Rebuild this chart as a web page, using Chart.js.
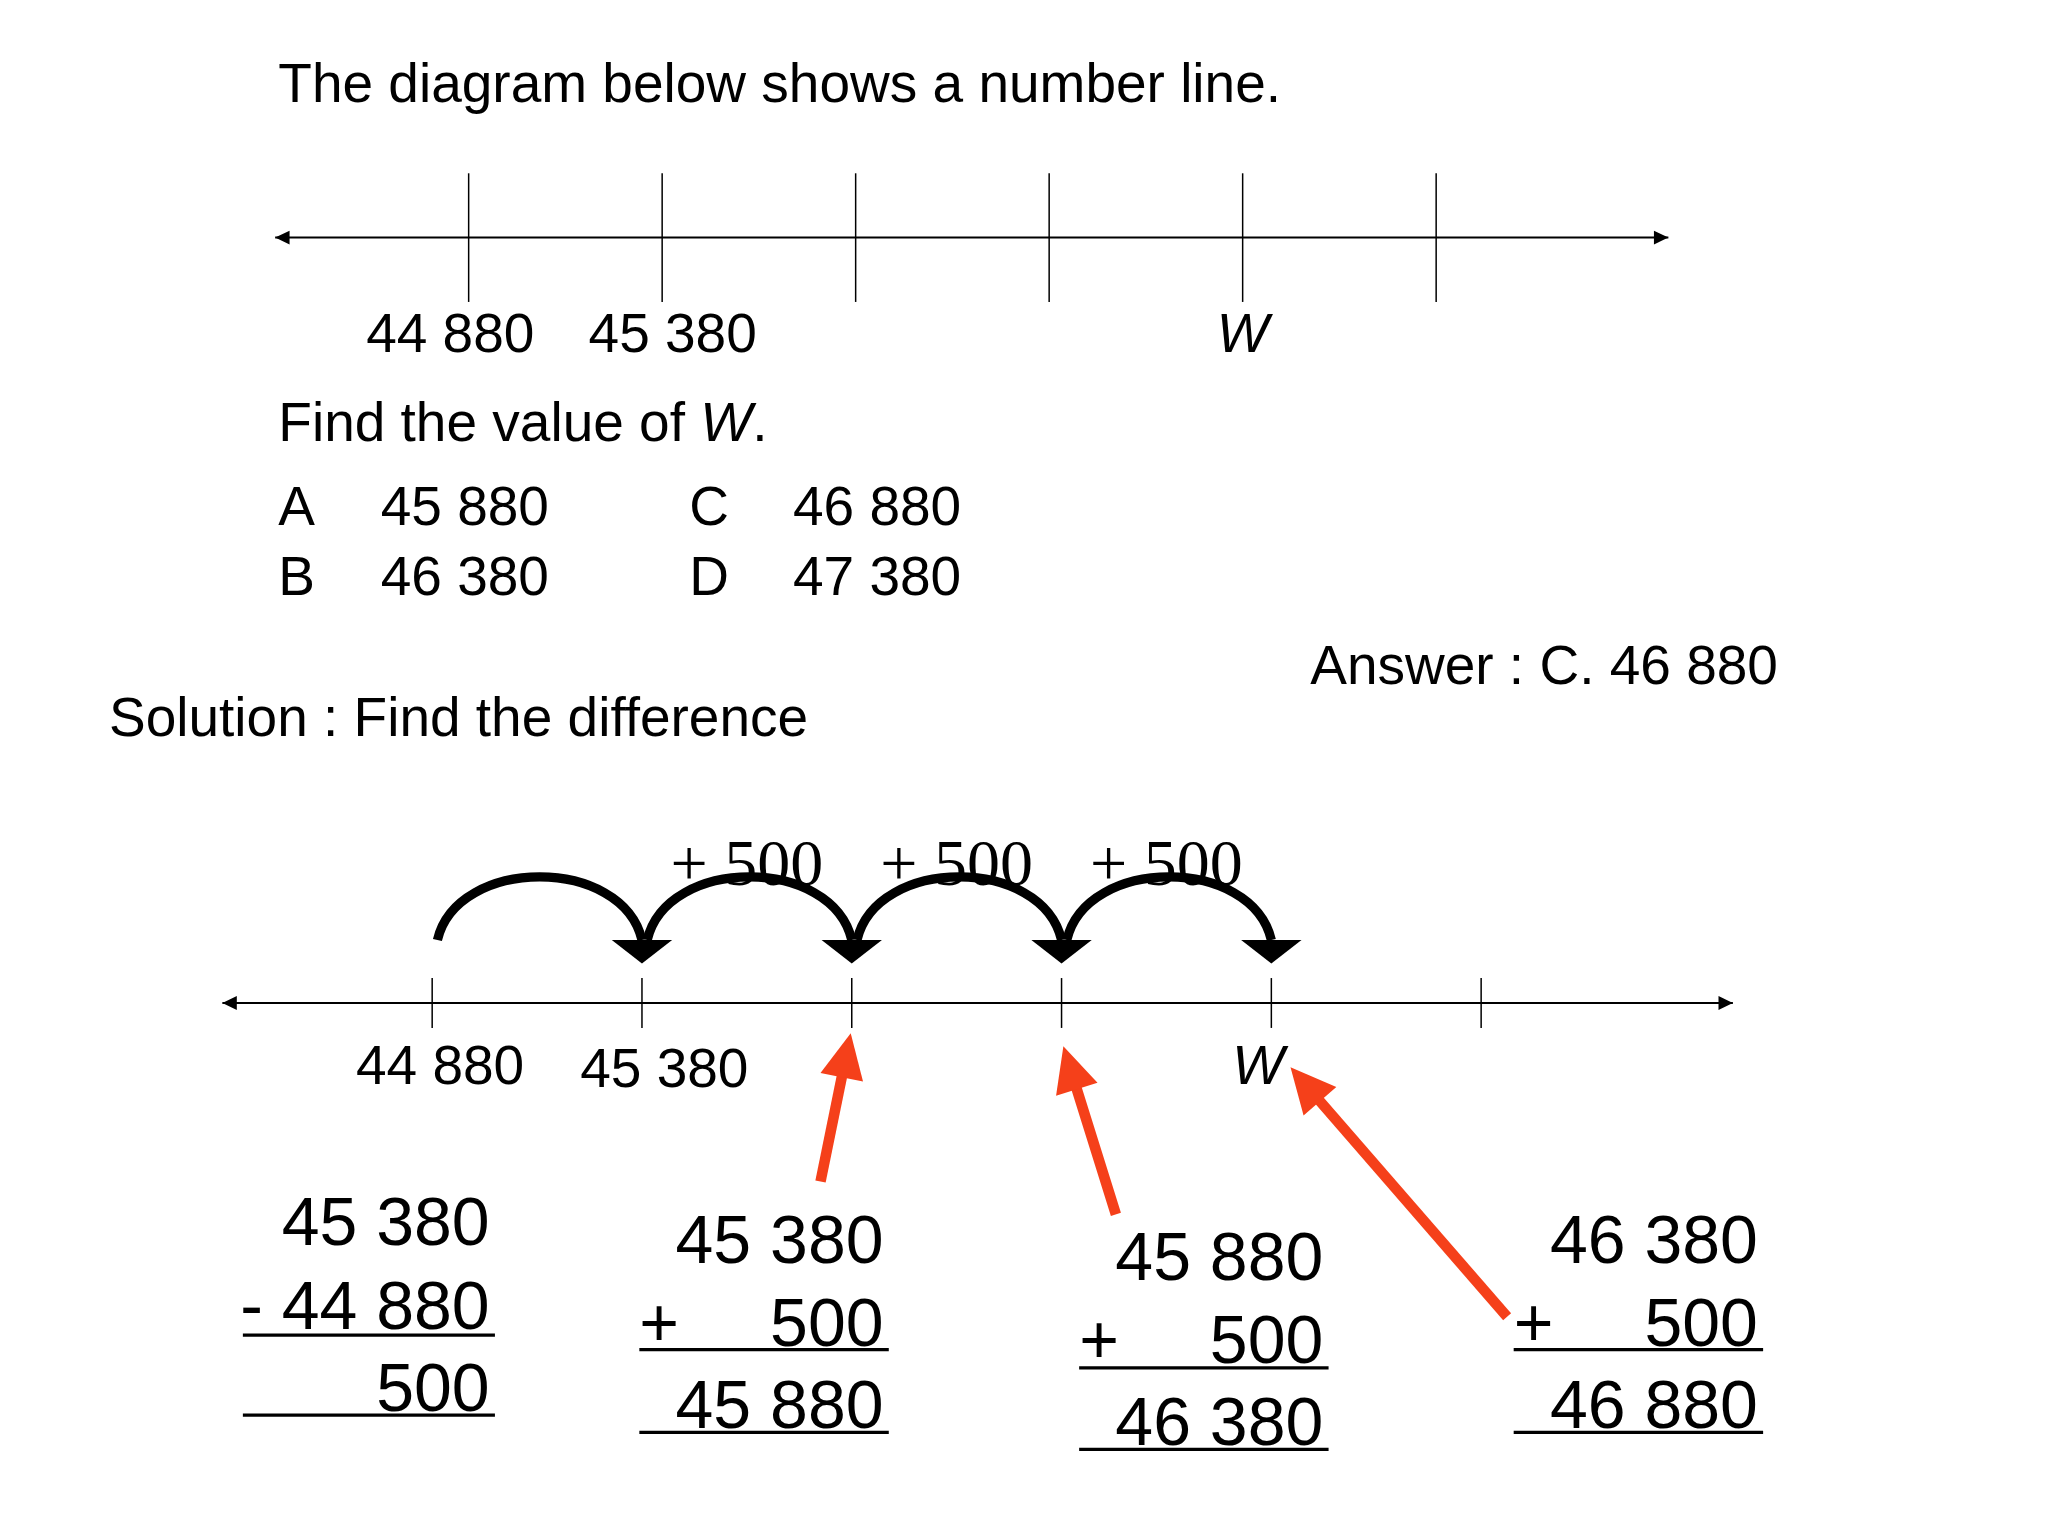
<!DOCTYPE html>
<html><head><meta charset="utf-8">
<script src="https://cdn.jsdelivr.net/npm/chart.js@4/dist/chart.umd.min.js"></script>
<style>html,body{margin:0;background:#fff}#wrap{width:2048px;height:1536px}</style>
</head><body><div id="wrap"><canvas id="c"></canvas></div>
<script>
// number line values
const tickValues = [44880, 45380, 45880, 46380, 46880, 47380];
const lineEnds = [44380, 47980];
const labelledTicks = ['44 880', '45 380', '', '', 'W', ''];
const jumpLabels = ['+ 500', '+ 500', '+ 500'];
const options = [['A', '45 880'], ['B', '46 380'], ['C', '46 880'], ['D', '47 380']];
const sums = [
  ['45 380', '- 44 880', '500'],
  ['45 380', '+', '500', '45 880'],
  ['45 880', '+', '500', '46 380'],
  ['46 380', '+', '500', '46 880']
];

const S = 2048 / 1560; // layout unit
const SANS = '"Liberation Sans", Arial, sans-serif';
const SERIF = '"Liberation Serif", "Times New Roman", serif';
const RED = '#f5401a';
const Y_TOP = 181 * S, Y_BOT = 764 * S;
const FS = 42;

function pts(vals, y) { return vals.map(v => ({ x: v, y: y })); }

function arrowHead(ctx, x1, y1, x2, y2, size, color) {
  const a = Math.atan2(y2 - y1, x2 - x1);
  ctx.fillStyle = color;
  ctx.beginPath();
  ctx.moveTo(x2, y2);
  ctx.lineTo(x2 - size * Math.cos(a - 0.45), y2 - size * Math.sin(a - 0.45));
  ctx.lineTo(x2 - size * Math.cos(a + 0.45), y2 - size * Math.sin(a + 0.45));
  ctx.closePath();
  ctx.fill();
}

const drawing = {
  id: 'drawing',
  afterDatasetsDraw(chart) {
    const ctx = chart.ctx;
    const xt = chart.scales.xTop, xb = chart.scales.xBot, ys = chart.scales.y;
    ctx.save();
    ctx.fillStyle = '#000';
    ctx.textBaseline = 'alphabetic';
    const txt = (t, x, y, size, align, font, italic) => {
      ctx.font = (italic ? 'italic ' : '') + Math.round(size * S) + 'px ' + (font || SANS);
      ctx.textAlign = align || 'left';
      ctx.fillText(t, x * S, y * S);
    };
    // axis arrow heads
    [[xt, Y_TOP], [xb, Y_BOT]].forEach(([sc, y]) => {
      const py = ys.getPixelForValue(y);
      arrowHead(ctx, sc.getPixelForValue(lineEnds[1]), py, sc.getPixelForValue(lineEnds[0]), py, 16, '#000');
      arrowHead(ctx, sc.getPixelForValue(lineEnds[0]), py, sc.getPixelForValue(lineEnds[1]), py, 16, '#000');
    });

    txt('The diagram below shows a number line.', 212, 78, FS);
    labelledTicks.forEach((l, i) => {
      if (!l) return;
      ctx.font = (l === 'W' ? 'italic ' : '') + Math.round(FS * S) + 'px ' + SANS;
      ctx.textAlign = 'center';
      const dx = l === 'W' ? 0 : (i === 0 ? -14 : 8) * S;
      ctx.fillText(l, xt.getPixelForValue(tickValues[i]) + dx, 268 * S);
      ctx.fillText(l, xb.getPixelForValue(tickValues[i]) + (l === 'W' ? -10 * S : (i === 0 ? 6 : 17) * S), (i === 1 ? 828 : 826) * S);
    });
    txt('Find the value of ', 212, 336, FS);
    ctx.font = Math.round(FS * S) + 'px ' + SANS;
    let w = ctx.measureText('Find the value of ').width;
    ctx.font = 'italic ' + Math.round(FS * S) + 'px ' + SANS;
    ctx.textAlign = 'left';
    ctx.fillText('W', 212 * S + w, 336 * S);
    let w2 = ctx.measureText('W').width;
    ctx.font = Math.round(FS * S) + 'px ' + SANS;
    ctx.fillText('.', 212 * S + w + w2, 336 * S);
    options.forEach((o, i) => {
      const col = i < 2 ? 0 : 1, row = i % 2;
      txt(o[0], col ? 525 : 212, 400 + row * 53, FS);
      txt(o[1], col ? 604 : 290, 400 + row * 53, FS);
    });
    txt('Answer : C. 46 880', 998, 521, FS);
    txt('Solution : Find the difference', 83, 561, FS);

    // jump arcs
    ctx.lineWidth = 7 * S;
    ctx.strokeStyle = '#000';
    for (let i = 0; i < 4; i++) {
      const x0 = xb.getPixelForValue(tickValues[i]) + 4 * S;
      const x1 = xb.getPixelForValue(tickValues[i + 1]);
      ctx.beginPath();
      ctx.moveTo(x0, 716 * S);
      ctx.bezierCurveTo(x0 + 15 * S, 652 * S, x1 - 15 * S, 652 * S, x1, 716 * S);
      ctx.stroke();
      ctx.fillStyle = '#000';
      ctx.beginPath();
      ctx.moveTo(x1 - 23 * S, 716 * S);
      ctx.lineTo(x1 + 23 * S, 716 * S);
      ctx.lineTo(x1, 734 * S);
      ctx.closePath();
      ctx.fill();
    }
    jumpLabels.forEach((l, i) => {
      const x = (xb.getPixelForValue(tickValues[i + 1]) + xb.getPixelForValue(tickValues[i + 2])) / 2;
      ctx.font = Math.round(50 * S) + 'px ' + SERIF;
      ctx.textAlign = 'center';
      ctx.fillText(l, x, 674 * S);
    });

    // red arrows
    [[625, 900, 648, 787], [850, 925, 810, 797], [1148, 1003, 983, 813]].forEach(a => {
      const [x1, y1, x2, y2] = a.map(v => v * S);
      const ang = Math.atan2(y2 - y1, x2 - x1);
      ctx.strokeStyle = RED;
      ctx.lineWidth = 8 * S;
      ctx.beginPath();
      ctx.moveTo(x1, y1);
      ctx.lineTo(x2 - 25 * S * Math.cos(ang), y2 - 25 * S * Math.sin(ang));
      ctx.stroke();
      arrowHead(ctx, x1, y1, x2, y2, 38 * S, RED);
    });

    // column sums
    const cols = [
      { l: 185, r: 375, ys: [948, 1012, 1075], lines: [1017, 1078] },
      { l: 487, r: 675, ys: [962, 1025, 1088], lines: [1028, 1091] },
      { l: 822, r: 1010, ys: [975, 1038, 1101], lines: [1042, 1104] },
      { l: 1153, r: 1341, ys: [962, 1025, 1088], lines: [1028, 1091] }
    ];
    ctx.fillStyle = '#000';
    ctx.strokeStyle = '#000';
    sums.forEach((s, i) => {
      const c = cols[i];
      const rows = s.length === 3 ? s : [s[0], s[2], s[3]];
      rows.forEach((t, k) => txt(t, c.r - 2, c.ys[k], 52, 'right'));
      if (s.length === 4) txt(s[1], c.l, c.ys[1], 52, 'left');
      ctx.lineWidth = 2.5 * S;
      c.lines.forEach(y => {
        ctx.beginPath();
        ctx.moveTo(c.l * S, y * S);
        ctx.lineTo((c.r + 2) * S, y * S);
        ctx.stroke();
      });
    });
    ctx.restore();
  }
};

const tickStyle = { showLine: false, pointStyle: 'line', rotation: 90, borderColor: '#000', borderWidth: 1.5, pointHoverRadius: 0 };

new Chart(document.getElementById('c'), {
  type: 'scatter',
  data: {
    datasets: [
      { data: pts(lineEnds, Y_TOP), xAxisID: 'xTop', showLine: true, borderColor: '#000', borderWidth: 2, pointRadius: 0 },
      Object.assign({ data: pts(tickValues, Y_TOP), xAxisID: 'xTop', pointRadius: 49 * S }, tickStyle),
      { data: pts(lineEnds, Y_BOT), xAxisID: 'xBot', showLine: true, borderColor: '#000', borderWidth: 2, pointRadius: 0 },
      Object.assign({ data: pts(tickValues, Y_BOT), xAxisID: 'xBot', pointRadius: 19 * S }, tickStyle)
    ]
  },
  options: {
    responsive: true, maintainAspectRatio: false, animation: false,
    layout: { padding: 0, autoPadding: false },
    plugins: { legend: { display: false }, tooltip: { enabled: false } },
    scales: {
      xTop: { type: 'linear', display: false, min: 43669, max: 48961 },
      xBot: { type: 'linear', display: false, min: 43850, max: 48731 },
      y: { type: 'linear', display: false, min: 0, max: 1536, reverse: true }
    }
  },
  plugins: [drawing]
});
</script></body></html>
